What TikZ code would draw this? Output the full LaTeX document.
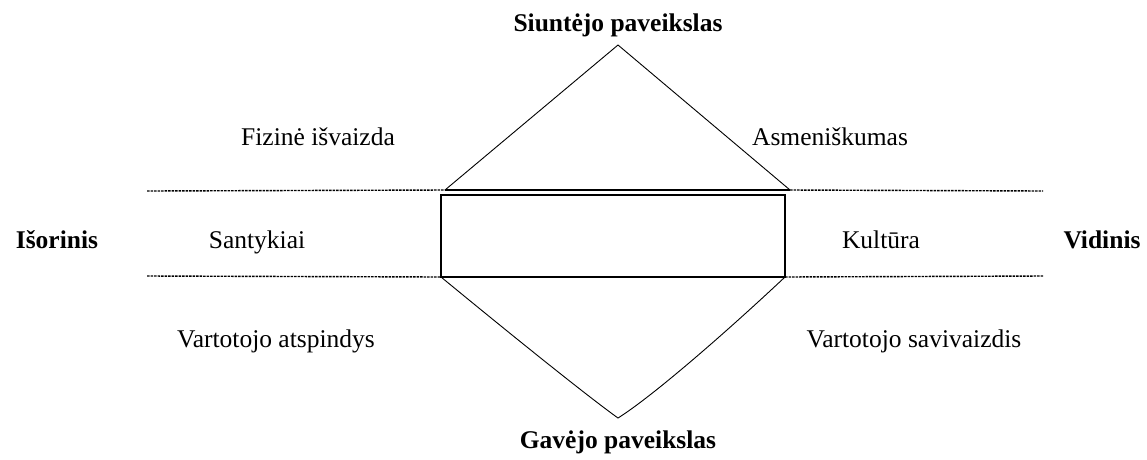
\documentclass[tikz,border=0pt]{standalone}
\usepackage{fontspec}
\setmainfont{Liberation Serif}
\begin{document}
\begin{tikzpicture}[x=1pt,y=-1pt,
  lbl/.style={font=\fontsize{25.5}{29}\selectfont, inner sep=0pt, anchor=base},
  blbl/.style={lbl, font=\fontsize{25.5}{29}\selectfont\bfseries},
  dotline/.style={line width=1.4pt, dash pattern=on 2.5pt off 1pt},
  edge/.style={line width=0.9pt, line join=miter}]
\useasboundingbox (0,0) rectangle (1147,459);
% coordinates
\coordinate (top) at (618,45);
\coordinate (bot) at (618,418);
\coordinate (tl) at (445,190);
\coordinate (tr) at (790,190);
\coordinate (bl) at (441,277);
\coordinate (br) at (785,277);
\coordinate (dlA) at (147,191);
\coordinate (dlB) at (1043,191);
\coordinate (dlC) at (147,276);
\coordinate (dlD) at (1043,276);
% dotted boundaries
\draw[dotline] (dlA) -- (tl);
\draw[dotline] (tr) -- (dlB);
\draw[dotline] (dlC) -- (bl);
\draw[dotline] (br) -- (dlD);
% central rectangle
\node[draw, line width=1.2pt, minimum width=344pt, minimum height=82pt, inner sep=0pt] (box) at (613,236) {};
\draw[line width=2pt] (tl) -- (tr);
% top and bottom triangles
\draw[edge] (tl) -- (top) -- (tr);
\draw[edge] (bl) .. controls (520,342) and (590,398) .. (bot) .. controls (650,398) and (720,338) .. (br);
% labels
\node[blbl] (sender) at (618,31) {Siuntėjo paveikslas};
\node[blbl] (receiver) at (618,448) {Gavėjo paveikslas};
\node[lbl] (fizine) at (318,145) {Fizinė išvaizda};
\node[lbl] (asmen) at (830,145) {Asmeniškumas};
\node[blbl] (isor) at (57,248) {Išorinis};
\node[lbl] (sant) at (257,248) {Santykiai};
\node[lbl] (kult) at (881,248) {Kultūra};
\node[blbl] (vid) at (1102,248) {Vidinis};
\node[lbl] (atsp) at (276,347) {Vartotojo atspindys};
\node[lbl] (saviv) at (914,347) {Vartotojo savivaizdis};
\end{tikzpicture}
\end{document}
